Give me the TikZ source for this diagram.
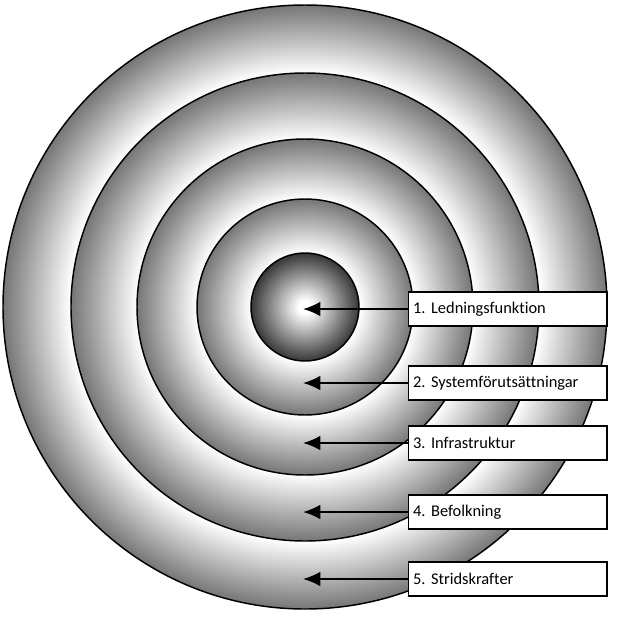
\documentclass[tikz,border=0pt]{standalone}
\usepackage{fontspec}
\setmainfont[Ligatures=NoCommon]{Carlito}
\usetikzlibrary{arrows.meta, positioning}
\definecolor{ring_gray}{RGB}{118, 118, 118}
\definecolor{core_gray}{RGB}{55, 55, 55}
\pgfdeclareradialshading{ringA}{\pgfpoint{0bp}{0bp}}{color(0bp)=(white); color(19.4bp)=(white); color(25bp)=(ring_gray); color(50bp)=(ring_gray)}
\pgfdeclareradialshading{ringB}{\pgfpoint{0bp}{0bp}}{color(0bp)=(white); color(17.9bp)=(white); color(25bp)=(ring_gray); color(50bp)=(ring_gray)}
\pgfdeclareradialshading{ringC}{\pgfpoint{0bp}{0bp}}{color(0bp)=(white); color(16.1bp)=(white); color(25bp)=(ring_gray); color(50bp)=(ring_gray)}
\pgfdeclareradialshading{ringD}{\pgfpoint{0bp}{0bp}}{color(0bp)=(white); color(12.5bp)=(white); color(25bp)=(ring_gray); color(50bp)=(ring_gray)}
\pgfdeclareradialshading{core}{\pgfpoint{0bp}{0bp}}{color(0bp)=(white); color(3bp)=(white); color(25bp)=(core_gray); color(50bp)=(core_gray)}
\tikzset {
  ring/.style = {draw, line width=1.1pt, shading=#1},
  label/.style = {draw, line width=1.1pt, fill=white, rectangle, minimum width=148.5pt, minimum height=25.5pt, text width=142pt, align=left, font=\fontsize{12.3}{14}\selectfont, anchor=west},
  line/.style = {line width=1.5pt, -{Latex[length=13pt, width=11pt]}},
}
\begin{document}
\frenchspacing
\begin{tikzpicture}[x=0.75pt, y=-0.75pt]
    \useasboundingbox (0,0) rectangle (617,619);
    \coordinate (c) at (305,307);

    \path[ring=ringA] (c) circle (302);
    \path[ring=ringB] (c) circle (234);
    \path[ring=ringC] (c) circle (168);
    \path[ring=ringD] (c) circle (108);
    \path[ring=core] (c) circle (54);

    \node[label] (lead) at (408,309) {1. Ledningsfunktion};
    \node[label] (sys) at (408,383) {2. Systemförutsättningar};
    \node[label] (infra) at (408,443) {3. Infrastruktur};
    \node[label] (befolk) at (408,512) {4. Befolkning};
    \node[label] (strid) at (408,579) {5. Stridskrafter};

    \coordinate (t1) at (303,309);
    \coordinate (t2) at (303,383);
    \coordinate (t3) at (303,443);
    \coordinate (t4) at (303,512);
    \coordinate (t5) at (303,579);

    \draw[line] (lead.west) -- (t1);
    \draw[line] (sys.west) -- (t2);
    \draw[line] (infra.west) -- (t3);
    \draw[line] (befolk.west) -- (t4);
    \draw[line] (strid.west) -- (t5);

\end{tikzpicture}
\end{document}
